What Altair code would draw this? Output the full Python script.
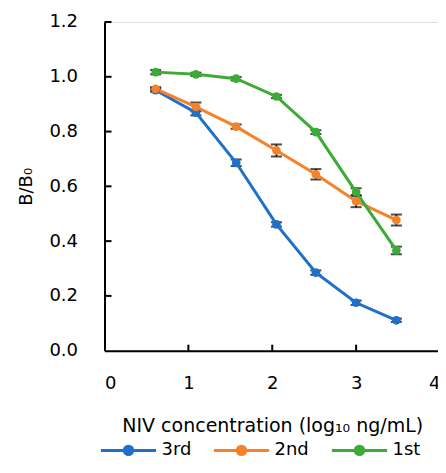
import altair as alt
import pandas as pd

x_vals = [0.61, 1.09, 1.57, 2.05, 2.52, 3.0, 3.48]
series_names = ["3rd", "2nd", "1st"]
y_3rd = [0.951, 0.869, 0.686, 0.461, 0.285, 0.175, 0.111]
e_3rd = [0.006, 0.010, 0.012, 0.008, 0.008, 0.008, 0.006]
y_2nd = [0.956, 0.890, 0.818, 0.731, 0.644, 0.546, 0.477]
e_2nd = [0.006, 0.016, 0.008, 0.022, 0.019, 0.022, 0.020]
y_1st = [1.017, 1.009, 0.993, 0.928, 0.798, 0.579, 0.366]
e_1st = [0.008, 0.006, 0.006, 0.006, 0.007, 0.014, 0.014]
colors = ["#1f70c8", "#f5822a", "#3dab37"]
x_ticks = [0, 1, 2, 3, 4]
y_ticks = [0.0, 0.2, 0.4, 0.6, 0.8, 1.0, 1.2]

rows = []
for name, ys, es in [("3rd", y_3rd, e_3rd), ("2nd", y_2nd, e_2nd), ("1st", y_1st, e_1st)]:
    for x, y, e in zip(x_vals, ys, es):
        rows.append({"x": x, "y": y, "lo": y - e, "hi": y + e, "series": name})
df = pd.DataFrame(rows)

FONT = "DejaVu Sans"
FS = 18
W, H = 333.5, 328.7
XR = 335.5

xs = alt.Scale(domain=[0, 4], nice=False, range=[0, XR])
ys = alt.Scale(domain=[0, 1.2], nice=False)
color = alt.Color(
    "series:N",
    scale=alt.Scale(domain=series_names, range=colors),
    legend=alt.Legend(
        orient="none", direction="horizontal", legendX=15, legendY=419,
        title=None, labelFont=FONT, labelFontSize=FS, labelColor="#000",
        symbolType="M-6.9,0L6.9,0M-1.05,0A1.05,1.05 0 1,0 1.05,0A1.05,1.05 0 1,0 -1.05,0Z",
        symbolSize=64, symbolStrokeWidth=3, columnPadding=16, labelOffset=24,
        symbolOpacity=1,
    ),
)

xaxis = alt.Axis(values=x_ticks, format="d", tickSize=0, domainColor="#000", domainWidth=2,
                 labelFont=FONT, labelFontSize=FS, labelColor="#000", labelPadding=24,
                 title="NIV concentration (log₁₀ ng/mL)", titleFont=FONT, titleFontSize=19,
                 titleFontWeight="normal", titleColor="#000", titlePadding=24, grid=False)
yaxis = alt.Axis(values=y_ticks, format=".1f", tickSize=0, domainColor="#000", domainWidth=2,
                 labelFont=FONT, labelFontSize=FS, labelColor="#000", labelPadding=27,
                 title="B/B₀", titleFont=FONT, titleFontSize=FS, titleFontWeight="normal",
                 titleColor="#000", titlePadding=13, grid=False)

base = alt.Chart(df)

bars = base.mark_rule(color="#000", strokeWidth=1.5).encode(
    x=alt.X("x:Q", scale=xs, axis=xaxis), y=alt.Y("lo:Q", scale=ys, axis=yaxis), y2="hi:Q")
caps_lo = base.mark_tick(color="#000", orient="horizontal", size=11, thickness=2).encode(
    x=alt.X("x:Q", scale=xs), y=alt.Y("lo:Q", scale=ys))
caps_hi = base.mark_tick(color="#000", orient="horizontal", size=11, thickness=2).encode(
    x=alt.X("x:Q", scale=xs), y=alt.Y("hi:Q", scale=ys))
lines = base.mark_line(strokeWidth=3).encode(
    x=alt.X("x:Q", scale=xs), y=alt.Y("y:Q", scale=ys), color=color,
    order="x:Q", detail="series:N")
points = base.mark_point(filled=True, size=76, opacity=1).encode(
    x=alt.X("x:Q", scale=xs), y=alt.Y("y:Q", scale=ys), color=color)

tick_df_x = pd.DataFrame({"t": x_ticks[1:]})
tick_df_y = pd.DataFrame({"t": y_ticks[1:]})
xt = alt.Chart(tick_df_x).mark_rule(color="#000", strokeWidth=2).encode(
    x=alt.X("t:Q", scale=xs), y=alt.value(H), y2=alt.value(H - 6))
yt = alt.Chart(tick_df_y).mark_rule(color="#000", strokeWidth=2).encode(
    y=alt.Y("t:Q", scale=ys), x=alt.value(0), x2=alt.value(7))

chart = alt.layer(bars, caps_lo, caps_hi, lines, points, xt, yt).properties(
    width=W, height=H,
    autosize=alt.AutoSizeParams(type="none"),
    padding={"left": 96.5, "top": 14, "right": 0, "bottom": 109},
).configure_view(stroke=None).configure(background="white")

chart.save("out.html", embed_options={"renderer": "svg", "actions": False})
